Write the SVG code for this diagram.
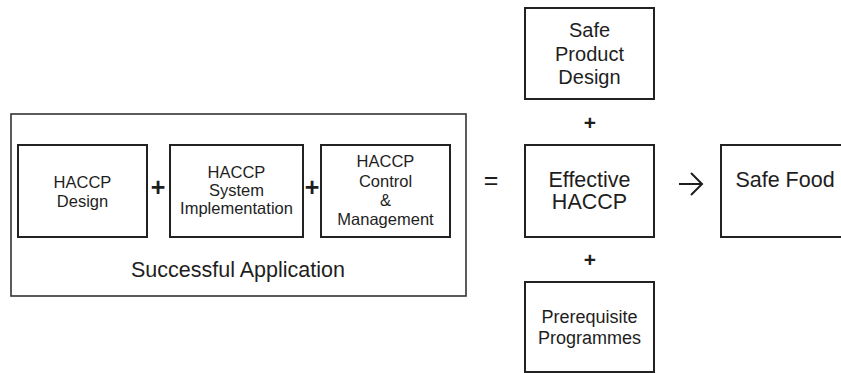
<svg xmlns="http://www.w3.org/2000/svg" width="841" height="373" viewBox="0 0 841 373">
<style>
  .box { fill: #fff; stroke: #222; stroke-width: 2; }
  .outer { fill: #fff; stroke: #333; stroke-width: 1.6; }
  text { font-family: "Liberation Sans", Arial, sans-serif; fill: #1e1e1e; text-anchor: middle; }
  .s { font-size: 16.5px; }
  .m { font-size: 18px; }
  .l { font-size: 20px; }
  .xl { font-size: 21.5px; }
  .op { font-weight: bold; }
</style>
<rect width="841" height="373" fill="#fff"/>
<g id="successful-application">
  <rect class="outer" x="11" y="114" width="455" height="182"/>
  <text class="xl" x="238" y="277">Successful Application</text>
</g>
<g id="haccp-design">
  <rect class="box" x="18" y="145" width="129" height="92"/>
  <text class="s" x="82.5" y="188">HACCP</text>
  <text class="s" x="82.5" y="207">Design</text>
</g>
<g id="haccp-system-implementation">
  <rect class="box" x="170" y="145" width="133" height="92"/>
  <text class="s" x="236.5" y="178">HACCP</text>
  <text class="s" x="236.5" y="196">System</text>
  <text class="s" x="236.5" y="214">Implementation</text>
</g>
<g id="haccp-control-management">
  <rect class="box" x="321" y="145" width="129" height="92"/>
  <text class="s" x="385.5" y="167">HACCP</text>
  <text class="s" x="385.5" y="187">Control</text>
  <text class="s" x="385.5" y="206">&amp;</text>
  <text class="s" x="385.5" y="225">Management</text>
</g>
<g id="safe-product-design">
  <rect class="box" x="525" y="8" width="129" height="91"/>
  <text class="l" x="589.5" y="37">Safe</text>
  <text class="l" x="589.5" y="61">Product</text>
  <text class="l" x="589.5" y="84">Design</text>
</g>
<g id="effective-haccp">
  <rect class="box" x="525" y="145" width="129" height="92"/>
  <text class="xl" x="589.5" y="187">Effective</text>
  <text class="xl" x="589.5" y="209">HACCP</text>
</g>
<g id="prerequisite-programmes">
  <rect class="box" x="525" y="282" width="129" height="90"/>
  <text class="m" x="589.5" y="323">Prerequisite</text>
  <text class="m" x="589.5" y="344">Programmes</text>
</g>
<g id="safe-food">
  <rect class="box" x="721" y="145" width="130" height="92"/>
  <text class="xl" x="785" y="187">Safe Food</text>
</g>
<g id="connectors">
  <text class="op" x="158" y="196" style="font-size:25px">+</text>
  <text class="op" x="312" y="196" style="font-size:25px">+</text>
  <text x="491" y="189" style="font-size:25px">=</text>
  <text class="op" x="590" y="130" style="font-size:21px">+</text>
  <text class="op" x="590" y="267" style="font-size:21px">+</text>
  <g fill="none" stroke="#1e1e1e" stroke-width="2">
    <path d="M679 184 H701"/>
    <path d="M691 173 L702 184 L691 195"/>
  </g>
</g>
</svg>
